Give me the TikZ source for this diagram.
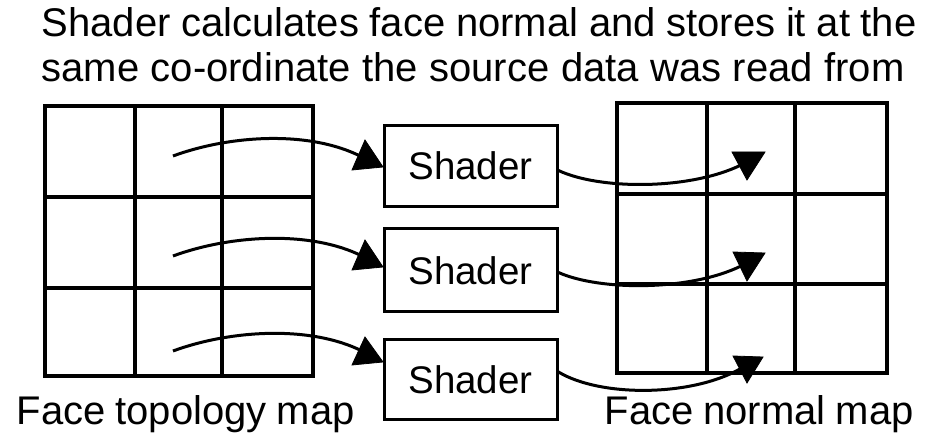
\documentclass[tikz,border=0pt]{standalone}
\usepackage{fontspec}
\setmainfont{Liberation Sans}
\begin{document}
\begin{tikzpicture}[x=1pt,y=-1pt,line width=3.2pt,
  txt/.style={inner sep=0pt,anchor=base west,font=\fontsize{40}{40}\selectfont},
  shaderbox/.style={draw,line width=3pt,minimum width=173pt,inner sep=0pt,font=\fontsize{38.5}{38.5}\selectfont},
  conn/.style={line width=3pt},
  head/.style={fill=black,draw=black,line width=0.8pt,line join=miter}]
\useasboundingbox (0,0) rectangle (927,435);
% title
\node[txt] (t1) at (40,37) {\makebox[875pt][s]{Shader calculates face normal and stores it at the}};
\node[txt] (t2) at (40,82) {\makebox[863pt][s]{same co-ordinate the source data was read from}};
% labels
\node[txt] (lab1) at (15,425) {\makebox[338pt][s]{Face topology map}};
\node[txt] (lab2) at (603,425) {\makebox[309pt][s]{Face normal map}};
% left grid
\draw (45,106) rectangle (313,376);
\draw (135,106) -- (135,376) (222,106) -- (222,376);
\draw (45,197) -- (313,197) (45,288) -- (313,288);
% right grid
\draw (617,103) rectangle (887,373);
\draw (707,103) -- (707,373) (795,103) -- (795,373);
\draw (617,194) -- (887,194) (617,284) -- (887,284);
% shader boxes
\node[shaderbox,minimum height=81pt] (s1) at (470.5,166.5) {\raisebox{1pt}{Shader}};
\node[shaderbox,minimum height=83pt] (s2) at (470.5,270.5) {Shader};
\node[shaderbox,minimum height=80pt] (s3) at (470.5,380) {\raisebox{-4pt}{Shader}};
% connector coordinates
\coordinate (l1s) at (173,156); \coordinate (l1e) at (362,157);
\coordinate (l2s) at (173,256); \coordinate (l2e) at (362,256);
\coordinate (l3s) at (173,351); \coordinate (l3e) at (362,351);
\coordinate (r1s) at ([yshift=-4pt]s1.east); \coordinate (r1e) at (741,165);
\coordinate (r2s) at ([yshift=-2pt]s2.east); \coordinate (r2e) at (741,266);
\coordinate (r3s) at ([yshift=8pt]s3.east); \coordinate (r3e) at (740,369);
% left connectors
\draw[conn] (l1s) .. controls (230,135) and (310,130) .. (l1e);
\draw[conn] (l2s) .. controls (230,235) and (310,230) .. (l2e);
\draw[conn] (l3s) .. controls (230,330) and (310,325) .. (l3e);
\filldraw[head] (352,170) -- (365,140) -- (383,167) -- cycle;
\filldraw[head] (352,270) -- (365,240) -- (383,267) -- cycle;
\filldraw[head] (352,365) -- (365,337) -- (383,362) -- cycle;
% right connectors
\draw[conn] (r1s) .. controls (600,190) and (690,190) .. (r1e);
\draw[conn] (r2s) .. controls (600,291) and (690,291) .. (r2e);
\draw[conn] (r3s) .. controls (600,397) and (690,397) .. (r3e);
\filldraw[head] (732,152) -- (765,152) -- (747,180) -- cycle;
\filldraw[head] (733,252) -- (765,253) -- (747,281) -- cycle;
\filldraw[head] (733,356) -- (763,357) -- (747,383) -- cycle;
\end{tikzpicture}
\end{document}
